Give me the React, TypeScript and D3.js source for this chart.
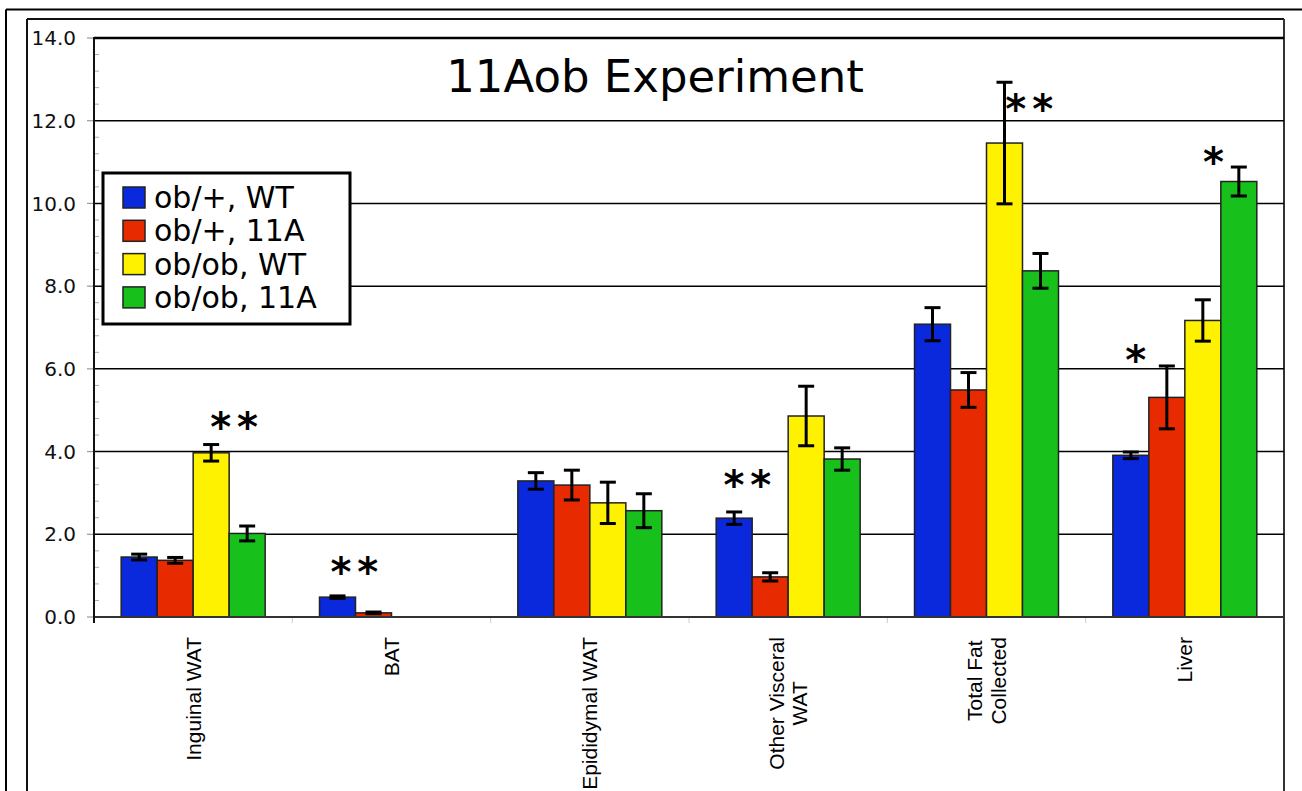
import React, { useMemo } from "react";
import * as d3 from "d3";

const categories = ["Inguinal WAT", "BAT", "Epididymal WAT", "Other Visceral WAT", "Total Fat Collected", "Liver"];
const categoryLines = [["Inguinal WAT"], ["BAT"], ["Epididymal WAT"], ["Other Visceral", "WAT"], ["Total Fat", "Collected"], ["Liver"]];
const seriesNames = ["ob/+, WT", "ob/+, 11A", "ob/ob, WT", "ob/ob, 11A"];
const seriesColors = ["#0a28dc", "#e82a00", "#fff200", "#17c01a"];

const obPlusWT = [1.45, 0.48, 3.29, 2.39, 7.08, 3.91];
const obPlus11A = [1.37, 0.1, 3.19, 0.97, 5.49, 5.31];
const obobWT = [3.97, 0, 2.76, 4.86, 11.46, 7.17];
const obob11A = [2.02, 0, 2.57, 3.82, 8.37, 10.53];

const obPlusWTErr = [0.07, 0.03, 0.2, 0.15, 0.4, 0.08];
const obPlus11AErr = [0.07, 0.02, 0.36, 0.1, 0.42, 0.76];
const obobWTErr = [0.2, 0, 0.5, 0.72, 1.47, 0.5];
const obob11AErr = [0.18, 0, 0.41, 0.27, 0.42, 0.35];

const yTickLabels = ["0.0", "2.0", "4.0", "6.0", "8.0", "10.0", "12.0", "14.0"];

// significance marks: category, slot position within group (in bar widths), height in data units
const starCats = ["Inguinal WAT", "BAT", "Other Visceral WAT", "Total Fat Collected", "Liver", "Liver"];
const starSlots = [3.22, 1.05, 0.95, 3.27, 0.72, 2.88];
const starValues = [4.79, 1.28, 3.38, 12.48, 6.41, 11.19];
const starTexts = ["**", "**", "**", "**", "*", "*"];

const W = 1302;
const H = 791;

export default function App() {
  const values = [obPlusWT, obPlus11A, obobWT, obob11A];
  const errors = [obPlusWTErr, obPlus11AErr, obobWTErr, obob11AErr];

  const x0 = d3.scaleBand<string>().domain(categories).range([94, 1284]).padding(0);
  const x1 = d3.scaleBand<string>().domain(seriesNames).range([0, x0.bandwidth()]).paddingInner(0).paddingOuter(0.755);
  const y = d3.scaleLinear().domain([0, 14]).range([617, 38]);

  const majors = y.ticks(7);
  const minors = d3.range(0, 14.001, 0.4).filter((v) => Math.abs(v / 2 - Math.round(v / 2)) > 1e-6);

  const labelFont = "21px 'Liberation Sans', Arial, sans-serif";
  const lens = useMemo(() => {
    const c = document.createElement("canvas").getContext("2d");
    return categoryLines.map((lines) => {
      if (!c) return 120;
      c.font = labelFont;
      return Math.max(...lines.map((l) => c.measureText(l).width));
    });
  }, []);

  const starSize = 40;

  return (
    <svg width={W} height={H} style={{ position: "absolute", left: 0, top: 0, background: "#fff" }}>
      {/* frames */}
      <line x1={6} y1={9.5} x2={W} y2={9.5} stroke="#000" strokeWidth={2} />
      <line x1={6} y1={9.5} x2={6} y2={H} stroke="#000" strokeWidth={2} />
      <line x1={27} y1={19} x2={1284} y2={19} stroke="#111" strokeWidth={2} />
      <line x1={27} y1={19} x2={27} y2={H} stroke="#111" strokeWidth={2} />
      <line x1={1284} y1={19} x2={1284} y2={H} stroke="#333" strokeWidth={2} />

      {/* gridlines */}
      {majors.filter((v) => v > 0).map((v) => (
        <line key={"g" + v} x1={94} x2={1284} y1={y(v)} y2={y(v)} stroke="#000" strokeWidth={v === 14 ? 2.5 : 1.5} />
      ))}
      {/* minor ticks */}
      {minors.map((v) => (
        <line key={"m" + v} x1={94} x2={99} y1={y(v)} y2={y(v)} stroke="#aaa" strokeWidth={1} />
      ))}
      {majors.map((v) => (
        <line key={"t" + v} x1={87} x2={94} y1={y(v)} y2={y(v)} stroke="#999" strokeWidth={1.2} />
      ))}
      {majors.map((v, i) => (
        <text key={"yl" + v} x={76} y={y(v)} dy="0.36em" textAnchor="end" fontFamily="'DejaVu Sans', sans-serif" fontSize={20} fill="#111">
          {yTickLabels[i]}
        </text>
      ))}

      {/* category boundary ticks */}
      {categories.slice(1).map((c) => (
        <line key={"ct" + c} x1={x0(c)!} x2={x0(c)!} y1={617} y2={623} stroke="#ccc" strokeWidth={1} />
      ))}

      {/* legend */}
      <rect x={103} y={173} width={247} height={151} fill="#fff" stroke="#000" strokeWidth={3} />
      {seriesNames.map((s, i) => (
        <g key={"lg" + s}>
          <rect x={123} y={187 + i * 33.3} width={22} height={21} fill={seriesColors[i]} stroke="#222" strokeWidth={1.5} />
          <text x={154} y={208 + i * 33.3} fontFamily="'DejaVu Sans', sans-serif" fontSize={30} fill="#000">
            {s}
          </text>
        </g>
      ))}

      {/* bars */}
      {categories.map((c, ci) => (
        <g key={"b" + c} transform={`translate(${x0(c)},0)`}>
          {seriesNames.map((s, si) => {
            const v = values[si][ci];
            if (v <= 0) return null;
            return (
              <rect key={s} x={x1(s)!} y={y(v)} width={x1.bandwidth()} height={y(0) - y(v)} fill={seriesColors[si]} stroke="#222" strokeWidth={1.5} />
            );
          })}
          {seriesNames.map((s, si) => {
            const v = values[si][ci];
            const e = errors[si][ci];
            if (v <= 0 || e <= 0) return null;
            const cx = x1(s)! + x1.bandwidth() / 2;
            return (
              <g key={"e" + s} stroke="#000" strokeWidth={3}>
                <line x1={cx} x2={cx} y1={y(v - e)} y2={y(v + e)} />
                <line x1={cx - 8} x2={cx + 8} y1={y(v - e)} y2={y(v - e)} />
                <line x1={cx - 8} x2={cx + 8} y1={y(v + e)} y2={y(v + e)} />
              </g>
            );
          })}
        </g>
      ))}

      {/* x axis */}
      <line x1={94} x2={1284} y1={617} y2={617} stroke="#333" strokeWidth={2} />
      <line x1={94} x2={94} y1={37} y2={623} stroke="#111" strokeWidth={2} />

      {/* category labels */}
      {categories.map((c, ci) => {
        const lines = categoryLines[ci];
        const cx = x0(c)! + x0.bandwidth() / 2;
        const cy = 637 + lens[ci] / 2;
        return lines.map((l, li) => {
          const off = (li - (lines.length - 1) / 2) * 23.5;
          return (
            <text key={c + li} transform={`translate(${cx + off},${cy}) rotate(-90)`} textAnchor="middle" dy="0.36em" fontFamily="'Liberation Sans', Arial, sans-serif" fontSize={21} fill="#000">
              {l}
            </text>
          );
        });
      })}

      {/* significance stars */}
      {starCats.map((c, i) => {
        const sx = x0(c)! + x1(seriesNames[0])! + starSlots[i] * x1.step();
        return (
          <text key={"s" + i} x={sx} y={y(starValues[i]) + starSize * 0.55} textAnchor="middle" fontFamily="'DejaVu Sans', sans-serif" fontWeight="bold" fontSize={starSize} letterSpacing={6} fill="#000">
            {starTexts[i]}
          </text>
        );
      })}

      {/* title */}
      <text x={655} y={92} textAnchor="middle" fontFamily="'DejaVu Sans', sans-serif" fontSize={45} fill="#000">
        11Aob Experiment
      </text>
    </svg>
  );
}
